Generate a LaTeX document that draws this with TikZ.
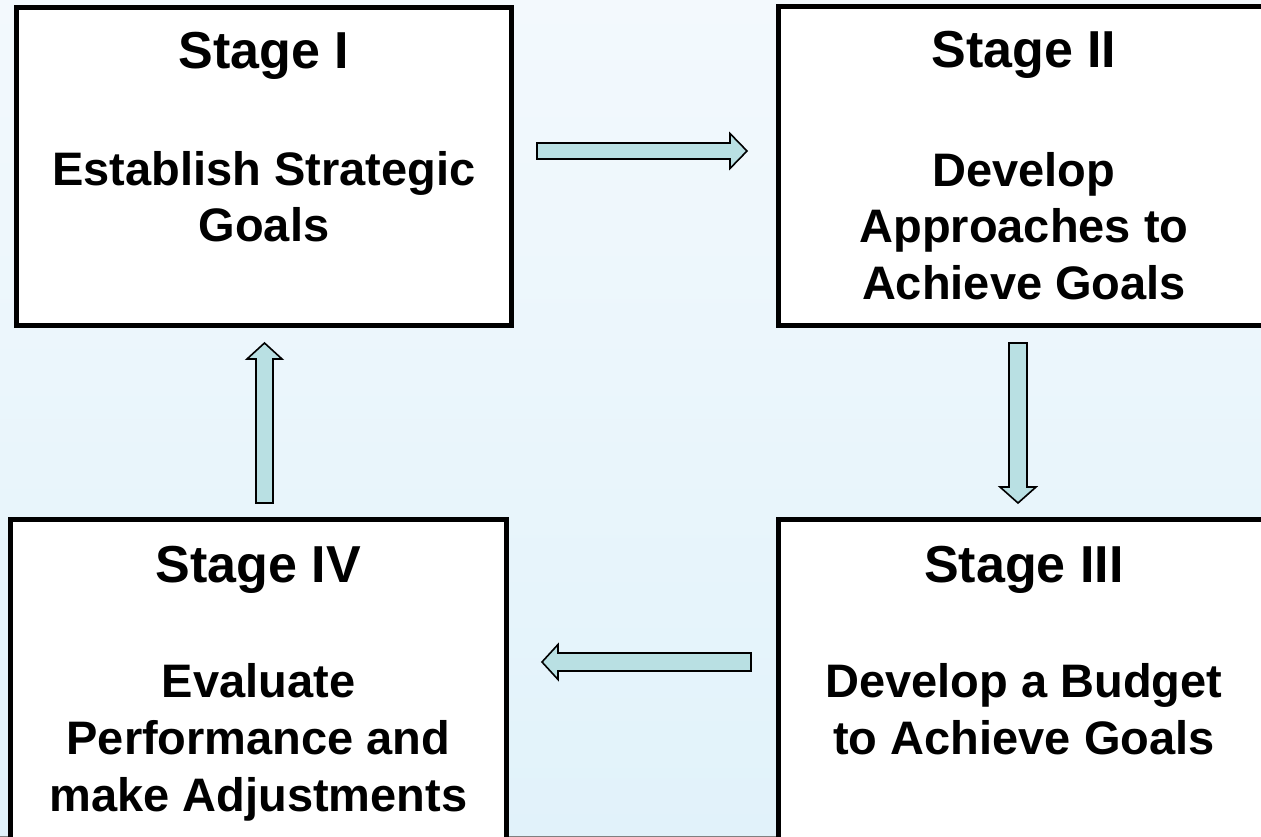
\documentclass[tikz,border=0pt]{standalone}
\usepackage{fontspec}
\setmainfont{Liberation Sans}
\usetikzlibrary{calc}
\definecolor{bgtop}{HTML}{F3F9FD}
\definecolor{bgbot}{HTML}{E1F2FA}
\definecolor{arrowfill}{HTML}{B9E0E3}
\tikzset{
  stagebox/.style={draw=black, line width=5pt, fill=white, rectangle, inner sep=0pt},
  titletext/.style={anchor=base, inner sep=0pt, font=\fontsize{52}{60}\selectfont\bfseries},
  bodytext/.style={anchor=base, inner sep=0pt, font=\fontsize{47}{56}\selectfont\bfseries},
  blockarrow/.style={draw=black, line width=1.6pt, fill=arrowfill, line join=miter}
}
\begin{document}
\begin{tikzpicture}[x=1pt,y=-1pt]
\useasboundingbox (0,0) rectangle (1261,837);
\clip (0,0) rectangle (1261,837);
\shade[top color=bgtop, bottom color=bgbot] (0,0) rectangle (1261,837);
\draw[gray, line width=1pt] (0,836.5) -- (1261,836.5);

% boxes
\node[stagebox, minimum width=495pt, minimum height=318pt] (s1) at (264,166.5) {};
\node[stagebox, minimum width=493.5pt, minimum height=318.5pt] (s2) at (1025.25,166.25) {};
\node[stagebox, minimum width=493.5pt, minimum height=325.5pt] (s3) at (1025.25,682.25) {};
\node[stagebox, minimum width=496.5pt, minimum height=325.5pt] (s4) at (258.25,682.25) {};

% texts
\node[titletext] (t1) at (264,69) {Stage I};
\node[bodytext] (t1a) at (264,186) {Establish Strategic};
\node[bodytext] (t1b) at (264,242) {Goals};

\node[titletext] (t2) at (1024,68) {Stage II};
\node[bodytext] (t2a) at (1024,187) {Develop};
\node[bodytext] (t2b) at (1024,243) {Approaches to};
\node[bodytext] (t2c) at (1024,299) {Achieve Goals};

\node[titletext] (t3) at (1024,582) {Stage III};
\node[bodytext] (t3a) at (1024,697) {Develop a Budget};
\node[bodytext] (t3b) at (1024,754) {to Achieve Goals};

\node[titletext] (t4) at (258.5,582) {Stage IV};
\node[bodytext] (t4a) at (258.5,697) {Evaluate};
\node[bodytext] (t4b) at (258.5,754) {Performance and};
\node[bodytext] (t4c) at (258.5,811) {make Adjustments};

% arrow end points
\coordinate (a1s) at (537,151);  \coordinate (a1e) at (747,151);
\coordinate (a2s) at (1018,343); \coordinate (a2e) at (1018,503);
\coordinate (a3s) at (751,662);  \coordinate (a3e) at (542,662);
\coordinate (a4s) at (264.5,503); \coordinate (a4e) at (264.5,343);

% right arrow (Stage I -> Stage II)
\draw[blockarrow] ($(a1s)+(0,-8)$) -- ($(a1e)+(-17,-8)$) -- ($(a1e)+(-17,-17.5)$) -- (a1e)
  -- ($(a1e)+(-17,17.5)$) -- ($(a1e)+(-17,8)$) -- ($(a1s)+(0,8)$) -- cycle;
% down arrow (Stage II -> Stage III)
\draw[blockarrow] ($(a2s)+(-9,0)$) -- ($(a2e)+(-9,-16)$) -- ($(a2e)+(-18,-16)$) -- (a2e)
  -- ($(a2e)+(18,-16)$) -- ($(a2e)+(9,-16)$) -- ($(a2s)+(9,0)$) -- cycle;
% left arrow (Stage III -> Stage IV)
\draw[blockarrow] ($(a3s)+(0,-9)$) -- ($(a3e)+(16,-9)$) -- ($(a3e)+(16,-17.5)$) -- (a3e)
  -- ($(a3e)+(16,17.5)$) -- ($(a3e)+(16,9)$) -- ($(a3s)+(0,9)$) -- cycle;
% up arrow (Stage IV -> Stage I)
\draw[blockarrow] ($(a4s)+(-8.5,0)$) -- ($(a4e)+(-8.5,16)$) -- ($(a4e)+(-17.5,16)$) -- (a4e)
  -- ($(a4e)+(17.5,16)$) -- ($(a4e)+(8.5,16)$) -- ($(a4s)+(8.5,0)$) -- cycle;
\end{tikzpicture}
\end{document}
